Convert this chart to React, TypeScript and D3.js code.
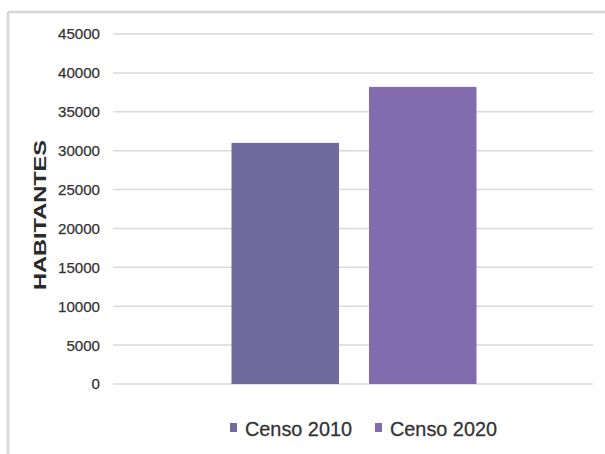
import React from "react";
import * as d3 from "d3";

const categories = [""];
const seriesNames = ["Censo 2010", "Censo 2020"];
const seriesValues = [31000, 38200];
const seriesColors = ["#6f6b9d", "#826cae"];
const yTicks = [0, 5000, 10000, 15000, 20000, 25000, 30000, 35000, 40000, 45000];
const yTitle = "HABITANTES";

export default function App() {
  const W = 605;
  const H = 454;
  const plotLeft = 113;
  const plotRight = 593;
  const plotTop = 34;
  const plotBottom = 384;

  const y = d3.scaleLinear().domain([0, 45000]).range([plotBottom, plotTop]);
  const x0 = d3
    .scaleBand<string>()
    .domain(categories)
    .range([plotLeft + 2, plotRight])
    .paddingInner(0)
    .paddingOuter(0.4755);
  const x1 = d3
    .scaleBand<string>()
    .domain(seriesNames)
    .range([0, x0.bandwidth()])
    .paddingInner(0.218)
    .paddingOuter(0);

  const font = "'Liberation Sans', Arial, sans-serif";

  return (
    <svg
      width={W}
      height={H}
      style={{ position: "absolute", left: 0, top: 0, background: "#fff" }}
    >
      <rect x={0} y={0} width={W} height={H} fill="#fff" />
      {/* frame */}
      <line x1={8} x2={W} y1={12} y2={12} stroke="#d6d6d6" strokeWidth={2.5} />
      <line x1={8} x2={8} y1={12} y2={H} stroke="#d6d6d6" strokeWidth={2.5} />

      {/* gridlines */}
      {yTicks.map((t) => (
        <line
          key={"g" + t}
          x1={plotLeft}
          x2={plotRight}
          y1={y(t)}
          y2={y(t)}
          stroke="#d9d9d9"
          strokeWidth={1.5}
        />
      ))}

      {/* tick labels */}
      {yTicks.map((t) => (
        <text
          key={"t" + t}
          x={100}
          y={y(t)}
          dy="0.36em"
          textAnchor="end"
          fontFamily={font}
          fontSize={15}
          fill="#333"
          stroke="#333"
          strokeWidth={0.25}
          textLength={String(t).length * 8.4}
          lengthAdjust="spacingAndGlyphs"
        >
          {t}
        </text>
      ))}

      {/* bars */}
      {categories.map((c) => (
        <g key={"c" + c} transform={`translate(${x0(c)},0)`}>
          {seriesNames.map((s, i) => (
            <rect
              key={s}
              x={x1(s)}
              y={y(seriesValues[i])}
              width={x1.bandwidth()}
              height={y(0) - y(seriesValues[i])}
              fill={seriesColors[i]}
            />
          ))}
        </g>
      ))}

      {/* y title */}
      <text
        transform={`translate(46,215) rotate(-90)`}
        textAnchor="middle"
        fontFamily={font}
        fontSize={16.5}
        fontWeight="bold"
        fill="#2a2a2a"
        textLength={150}
        lengthAdjust="spacingAndGlyphs"
      >
        {yTitle}
      </text>

      {/* legend */}
      {seriesNames.map((s, i) => {
        const lx = i === 0 ? 230 : 375;
        return (
          <g key={"l" + s}>
            <rect x={lx} y={423} width={7} height={9} fill={seriesColors[i]} />
            <text
              x={lx + 15}
              y={436}
              fontFamily={font}
              fontSize={21}
              fill="#333"
              stroke="#333"
              strokeWidth={0.3}
              textLength={107}
              lengthAdjust="spacingAndGlyphs"
            >
              {s}
            </text>
          </g>
        );
      })}
    </svg>
  );
}
